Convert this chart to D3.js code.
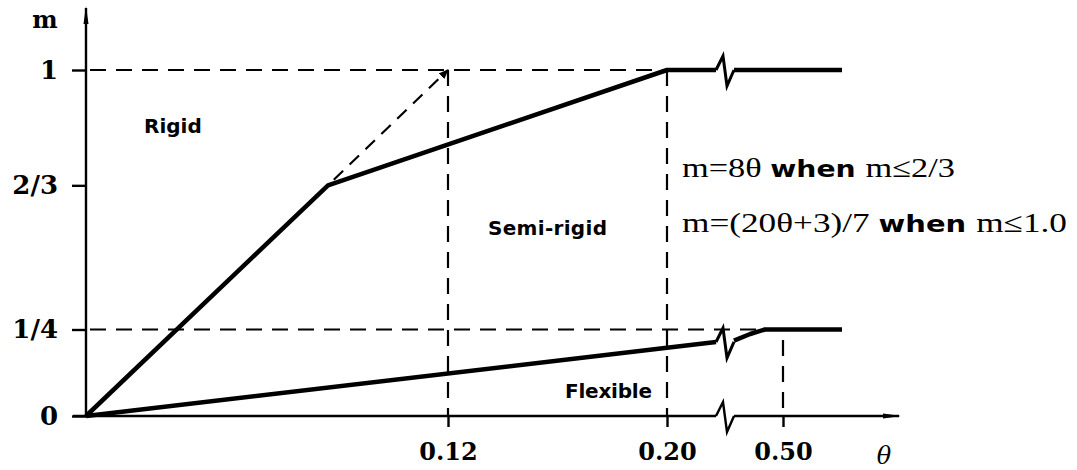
<!DOCTYPE html>
<html>
<head>
<meta charset="utf-8">
<script src="https://cdn.jsdelivr.net/npm/d3@7/dist/d3.min.js"></script>
<style>
  body { margin: 0; background: #fff; }
</style>
</head>
<body>
<div id="chart"></div>
<script>
// tick values and labels
const xTicks = [0.12, 0.20, 0.50];
const xTickLabels = ["0.12", "0.20", "0.50"];
const yTicks = [0, 1/4, 2/3, 1];
const yTickLabels = ["0", "1/4", "2/3", "1"];

// axis break on theta (gap between these two values)
const breakTheta = [0.22, 0.40];

// upper boundary (rigid / semi-rigid), before and after the break
const upperTheta = [0, 1/12, 0.20, 0.22];
const upperM = [0, 2/3, 1, 1];
const upperThetaAfter = [0.40, 0.60];
const upperMAfter = [1, 1];

// lower boundary (semi-rigid / flexible)
const lowerTheta = [0, 0.20, 0.22];
const lowerM = [0, 0.197, 0.214];
const lowerThetaAfter = [0.40, 0.433, 0.463, 0.60];
const lowerMAfter = [0.218, 0.237, 0.25, 0.25];

// extension of m = 8θ up to m = 1
const extTheta = [1/12, 0.12];
const extM = [2/3, 1];

const eqLines = [
    [["m=8θ ", "math"], ["when ", "bold"], ["m≤2/3", "math"]],
    [["m=(20θ+3)/7 ", "math"], ["when ", "bold"], ["m≤1.0", "math"]]
];

const width = 1077, height = 470;

const svg = d3.select("#chart").append("svg")
    .attr("width", width)
    .attr("height", height)
    .style("background", "#fff");

// schematic (not to scale) theta axis -> piecewise scale
const x = d3.scaleLinear()
    .domain([0, 1/12, 0.12, 0.20, 0.22, 0.40, 0.50, 0.60, 0.66])
    .range([86, 328, 448, 667, 716, 734, 783, 842, 899]);
const y = d3.scaleLinear().domain([0, 1]).range([416, 70]);

const defs = svg.append("defs");
defs.append("marker")
    .attr("id", "arr")
    .attr("viewBox", "0 0 18 8")
    .attr("refX", 16).attr("refY", 4)
    .attr("markerWidth", 18).attr("markerHeight", 8)
    .attr("markerUnits", "userSpaceOnUse")
    .attr("orient", "auto")
    .append("path").attr("d", "M0,1.5 L18,4 L0,6.5 Z").attr("fill", "#000");
defs.append("marker")
    .attr("id", "arrSmall")
    .attr("viewBox", "0 0 10 8")
    .attr("refX", 9).attr("refY", 4)
    .attr("markerWidth", 10).attr("markerHeight", 8)
    .attr("markerUnits", "userSpaceOnUse")
    .attr("orient", "auto")
    .append("path").attr("d", "M0,0 L10,4 L0,8 Z").attr("fill", "#000");

const zip = (a, b) => a.map((v, i) => [v, b[i]]);
const line = d3.line().x(d => x(d[0])).y(d => y(d[1]));

// zigzag break symbol
const breakPath = (px, py) => {
    const p = d3.path();
    p.moveTo(px, py);
    p.lineTo(px + 7, py - 14);
    p.lineTo(px + 11, py + 16);
    p.lineTo(px + 18, py);
    return p.toString();
};

// ---- dashed guide lines
const dash = svg.append("g")
    .attr("fill", "none")
    .attr("stroke", "#000")
    .attr("stroke-width", 2.2)
    .attr("stroke-dasharray", "16,10");

dash.append("path").attr("d", line([[0, 1], [0.20, 1]])).attr("stroke-dashoffset", -4);
dash.append("path").attr("d", line([[0, 1/4], [0.46, 1/4]])).attr("stroke-dashoffset", -4);
dash.append("path").attr("d", line([[0.12, 1], [0.12, 0]]));
dash.append("path").attr("d", line([[0.20, 1], [0.20, 0]]));
dash.append("path").attr("d", line([[0.50, 0.22], [0.50, 0]]));
dash.append("path")
    .attr("d", line(zip(extTheta, extM)))
    .attr("stroke-dasharray", "13,9")
    .attr("stroke-dashoffset", -8)
    .attr("marker-end", "url(#arrSmall)");

// ---- axes
const axisG = svg.append("g").attr("stroke", "#000").attr("fill", "none").attr("stroke-width", 2.4);
axisG.append("path")
    .attr("d", `M${x(0)},${y(0)} L${x(0)},8`)
    .attr("marker-end", "url(#arr)");
axisG.append("path").attr("d", `M${x(0) - 13},${y(0)} L${x(breakTheta[0])},${y(0)}`);
axisG.append("path").attr("d", breakPath(x(breakTheta[0]), y(0)));
axisG.append("path")
    .attr("d", `M${x(breakTheta[1])},${y(0)} L${x(0.66)},${y(0)}`)
    .attr("marker-end", "url(#arr)");

const yAxis = svg.append("g")
    .attr("transform", `translate(${x(0)},0)`)
    .call(d3.axisLeft(y).tickValues(yTicks).tickFormat((d, i) => yTickLabels[i])
        .tickSize(14).tickPadding(14));
yAxis.select(".domain").remove();
yAxis.selectAll("line").attr("stroke", "#000").attr("stroke-width", 2.4);
yAxis.selectAll("text")
    .attr("fill", "#000")
    .style("font-family", "'DejaVu Serif', serif")
    .style("font-weight", "bold")
    .style("font-size", "26px");

const xAxis = svg.append("g")
    .attr("transform", `translate(0,${y(0)})`)
    .call(d3.axisBottom(x).tickValues(xTicks).tickFormat((d, i) => xTickLabels[i])
        .tickSize(11).tickPadding(16));
xAxis.select(".domain").remove();
xAxis.selectAll("line").attr("stroke", "#000").attr("stroke-width", 2.4);
xAxis.selectAll("text")
    .attr("fill", "#000")
    .style("font-family", "'DejaVu Serif', serif")
    .style("font-weight", "bold")
    .style("font-size", "24px");

svg.append("text")
    .attr("x", 45).attr("y", 28)
    .attr("text-anchor", "middle")
    .style("font-family", "'DejaVu Serif', serif")
    .style("font-weight", "bold")
    .style("font-size", "24px")
    .text("m");

svg.append("text")
    .attr("x", 884).attr("y", 464)
    .attr("text-anchor", "middle")
    .style("font-family", "'DejaVu Serif', serif")
    .style("font-style", "italic")
    .style("font-size", "24px")
    .text("θ");

// ---- boundary curves
const curves = svg.append("g")
    .attr("fill", "none")
    .attr("stroke", "#000")
    .attr("stroke-width", 4.5)
    .attr("stroke-linejoin", "round");

curves.append("path").attr("d", line(zip(upperTheta, upperM)));
curves.append("path").attr("d", line(zip(upperThetaAfter, upperMAfter)));
curves.append("path").attr("d", line(zip(lowerTheta, lowerM)));
curves.append("path").attr("d", line(zip(lowerThetaAfter, lowerMAfter)));

svg.append("path")
    .attr("d", breakPath(x(breakTheta[0]), y(1)))
    .attr("fill", "none").attr("stroke", "#000").attr("stroke-width", 3);
svg.append("path")
    .attr("d", breakPath(x(breakTheta[0]), y(lowerM[lowerM.length - 1])))
    .attr("fill", "none").attr("stroke", "#000").attr("stroke-width", 3);

// ---- region labels
const labelStyle = sel => sel
    .style("font-family", "'DejaVu Sans', sans-serif")
    .style("font-weight", "bold")
    .style("font-size", "20px")
    .attr("fill", "#000");

svg.append("text").attr("x", 144).attr("y", 133).text("Rigid").call(labelStyle);
svg.append("text").attr("x", 488).attr("y", 235).attr("textLength", 119).text("Semi-rigid").call(labelStyle);
svg.append("text").attr("x", 565).attr("y", 398).attr("textLength", 87).text("Flexible").call(labelStyle);

// ---- equations
const eqY = [177, 232];
const eqLen = [273, 385];
eqLines.forEach((parts, i) => {
    const t = svg.append("text")
        .attr("x", 682).attr("y", eqY[i])
        .attr("textLength", eqLen[i])
        .attr("lengthAdjust", "spacingAndGlyphs")
        .attr("fill", "#000");
    parts.forEach(([s, kind]) => {
        const ts = t.append("tspan").text(s);
        if (kind === "bold") {
            ts.style("font-family", "'DejaVu Sans', sans-serif")
                .style("font-weight", "bold")
                .style("font-size", "23px");
        } else {
            ts.style("font-family", "'Liberation Serif', serif")
                .style("font-size", "28px");
        }
    });
});
</script>
</body>
</html>
